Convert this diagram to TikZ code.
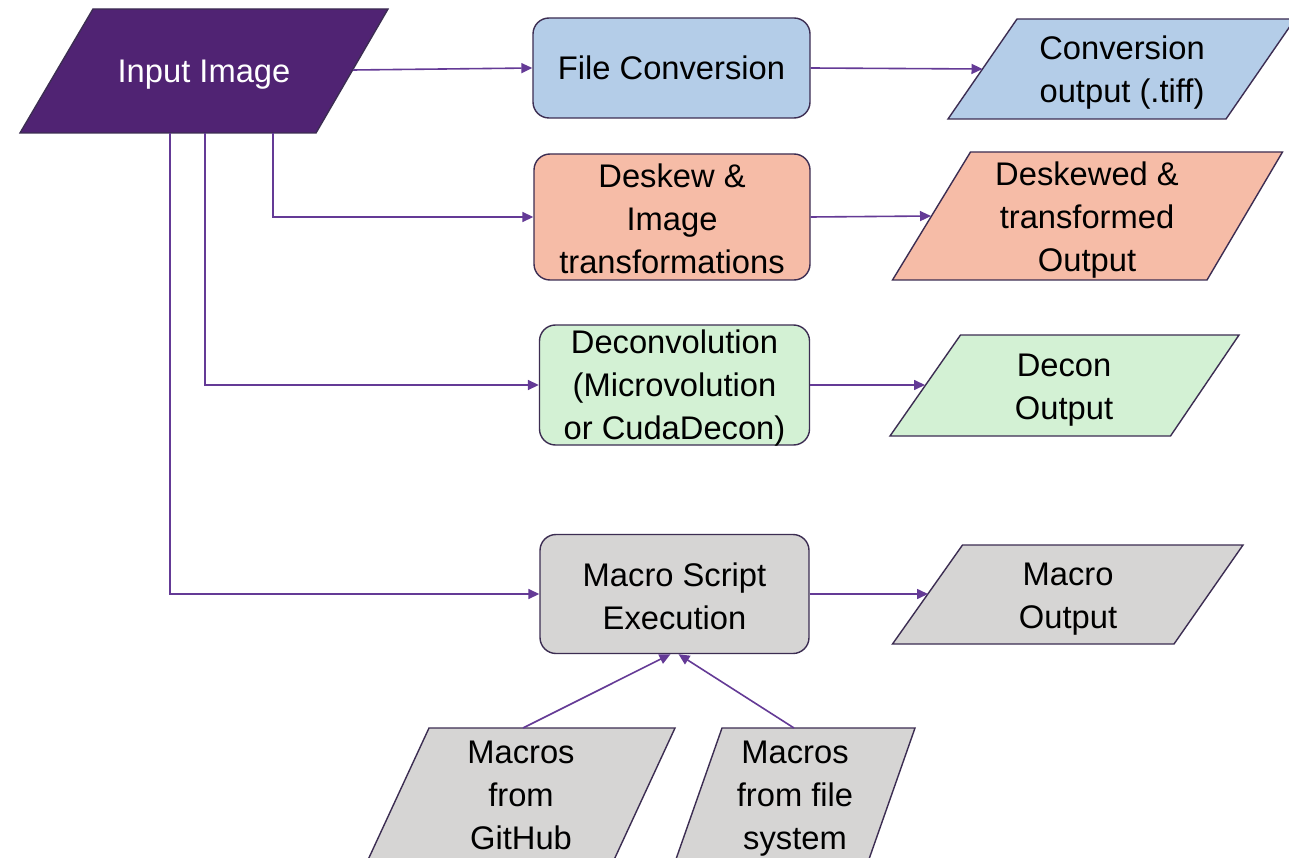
\documentclass[tikz,border=0pt]{standalone}
\usepackage{fontspec}
\setmainfont{Liberation Sans}
\usetikzlibrary{arrows.meta}
\definecolor{inpurple}{RGB}{80,35,115}
\definecolor{edgecol}{RGB}{60,45,82}
\definecolor{conncol}{RGB}{100,58,150}
\definecolor{fblue}{RGB}{180,205,232}
\definecolor{fsalmon}{RGB}{246,188,167}
\definecolor{fgreen}{RGB}{211,241,212}
\definecolor{fgray}{RGB}{214,213,212}
\begin{document}
\begin{tikzpicture}[x=1pt,y=-1pt,
  txt/.style={font=\fontsize{32.7}{43}\selectfont, align=center, inner sep=0pt},
  procbox/.style={draw=edgecol, line width=1.4pt, rounded corners=16pt, txt},
  iobox/.style={draw=edgecol, line width=1.4pt},
  link/.style={draw=conncol, line width=1.6pt, -{Triangle[length=11pt,width=10pt]}},
]
\clip (0,0) rectangle (1289,858);
\fill[white] (0,0) rectangle (1289,858);

% ---- Input Image
\filldraw[iobox, fill=inpurple] (93,9) -- (388,9) -- (316,133) -- (20,133) -- cycle;
\node[txt, text=white] (input) at (204,75) {Input Image};
\coordinate (inR) at (353,70);
\coordinate (inB1) at (170,133);
\coordinate (inB2) at (205,133);
\coordinate (inB3) at (273,133);

% ---- process boxes
\node[procbox, fill=fblue, minimum width=277pt, minimum height=100pt] (conv) at (671.5,68) {File Conversion};
\node[procbox, fill=fsalmon, minimum width=276pt, minimum height=126pt] (desk) at (672,217) {};
\node[txt] (desktext) at (672,218.5) {Deskew \&\\Image\\transformations};
\node[procbox, fill=fgreen, minimum width=270pt, minimum height=120pt] (decon) at (674.5,385) {};
\node[txt] (decontext) at (674.5,388.5) {Deconvolution\\(Microvolution\\or CudaDecon)};
\node[procbox, fill=fgray, minimum width=269pt, minimum height=119pt] (macro) at (674.5,594) {};
\node[txt] (macrotext) at (674.5,596) {Macro Script\\Execution};

% ---- output parallelograms
\filldraw[iobox, fill=fblue] (1017,19) -- (1295,19) -- (1226,119) -- (948,119) -- cycle;
\node[txt] (convout) at (1122,73) {Conversion\\output (.tiff)};
\coordinate (convoutL) at (982.5,69);

\filldraw[iobox, fill=fsalmon] (970.5,152) -- (1282.5,152) -- (1207,280) -- (892.5,280) -- cycle;
\node[txt] (deskout) at (1087,220.5) {Deskewed \&\\transformed\\Output};
\coordinate (deskoutL) at (931,216);

\filldraw[iobox, fill=fgreen] (960.5,335) -- (1239,335) -- (1170.5,436) -- (890,436) -- cycle;
\node[txt] (deconout) at (1064,390) {Decon\\Output};
\coordinate (deconoutL) at (925,385);

\filldraw[iobox, fill=fgray] (962.5,545) -- (1243,545) -- (1174,644) -- (892.5,644) -- cycle;
\node[txt] (macroout) at (1068,599.5) {Macro\\Output};
\coordinate (macrooutL) at (928,594);

% ---- macro sources
\filldraw[iobox, fill=fgray] (429,728) -- (675,728) -- (613,862) -- (367,862) -- cycle;
\node[txt] (github) at (521,795) {Macros\\from\\GitHub};
\coordinate (githubT) at (523,728);

\filldraw[iobox, fill=fgray] (722,728) -- (915,728) -- (868,862) -- (675,862) -- cycle;
\node[txt] (filesys) at (795,798.5) {Macros\\from file\\system};
\coordinate (filesysT) at (794,728);

% ---- connectors
\draw[link] (inR) -- (conv.west);
\draw[link] (inB3) |- (desk.west);
\draw[link] (inB2) |- (decon.west);
\draw[link] (inB1) |- (macro.west);

\draw[link] (conv.east) -- (convoutL);
\draw[link] (desk.east) -- (deskoutL);
\draw[link] (decon.east) -- (deconoutL);
\draw[link] (macro.east) -- (macrooutL);

\draw[link] (githubT) -- ([xshift=-4pt]macro.south);
\draw[link] (filesysT) -- ([xshift=4pt]macro.south);
\end{tikzpicture}
\end{document}
